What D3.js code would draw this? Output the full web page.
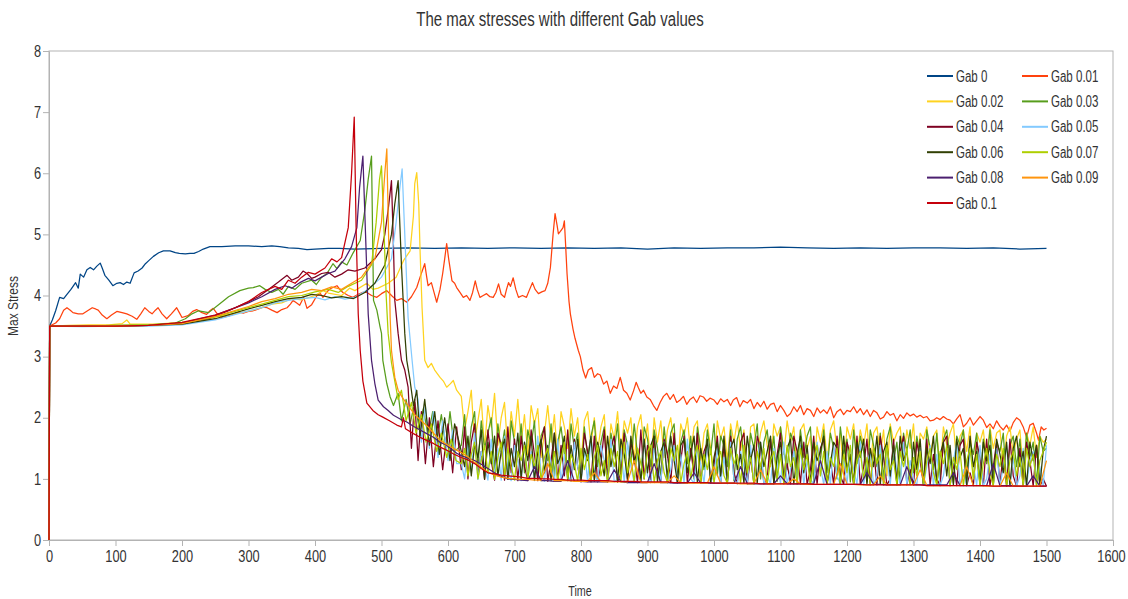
<!DOCTYPE html>
<html>
<head>
<meta charset="utf-8">
<script src="https://cdn.jsdelivr.net/npm/d3@7"></script>
<style>
  body { margin: 0; background: #fff; }
  text { font-family: "Liberation Sans", Arial, sans-serif; fill: #333; }
</style>
</head>
<body>
<script>
// series names, in draw order
const seriesNames = ["Gab 0", "Gab 0.01", "Gab 0.02", "Gab 0.03", "Gab 0.04", "Gab 0.05",
                     "Gab 0.06", "Gab 0.07", "Gab 0.08", "Gab 0.09", "Gab 0.1"];
const seriesColors = ["#004586", "#ff420e", "#ffd320", "#579d1c", "#7e0021", "#83caff",
                      "#314004", "#aecf00", "#4b1f6f", "#ff950e", "#c5000b"];

const xTicks = [0, 100, 200, 300, 400, 500, 600, 700, 800, 900, 1000, 1100, 1200, 1300, 1400, 1500, 1600];
const yTicks = [0, 1, 2, 3, 4, 5, 6, 7, 8];

// Gab 0 and Gab 0.01 as [time, stress] pairs
const gab0 = [[0,0],[1,3.5],[5,3.6],[10,3.75],[16,3.97],[22,3.95],[27,4.02],[33,4.1],[40,4.21],[44,4.12],[47,4.35],[52,4.3],
  [57,4.42],[62,4.46],[67,4.42],[72,4.48],[77,4.53],[80,4.45],[84,4.33],[90,4.25],[96,4.16],[102,4.2],[107,4.21],[112,4.18],
  [117,4.22],[122,4.2],[128,4.37],[134,4.4],[140,4.45],[145,4.52],[150,4.57],[157,4.64],[165,4.7],[172,4.73],[182,4.73],
  [190,4.7],[196,4.69],[205,4.68],[212,4.69],[218,4.69],[225,4.72],[232,4.76],[242,4.8],[260,4.8],[280,4.81],[300,4.81],
  [320,4.8],[335,4.81],[347,4.8],[360,4.78],[375,4.77],[388,4.75],[400,4.76],[420,4.77],[437,4.77],[460,4.76],[500,4.77],
  [540,4.78],[580,4.77],[620,4.78],[660,4.77],[700,4.78],[740,4.77],[780,4.78],[820,4.77],[860,4.78],[900,4.76],[940,4.78],
  [980,4.77],[1020,4.78],[1060,4.78],[1100,4.79],[1140,4.78],[1180,4.77],[1220,4.78],[1260,4.77],[1300,4.78],[1340,4.78],
  [1380,4.77],[1420,4.78],[1460,4.76],[1500,4.77]];

const gab001 = [[0,0],[1,3.5],[10,3.55],[16,3.62],[22,3.76],[27,3.8],[32,3.76],[36,3.72],[44,3.7],[51,3.7],[58,3.75],[65,3.8],
  [70,3.78],[74,3.76],[80,3.68],[87,3.62],[94,3.68],[102,3.74],[110,3.72],[117,3.7],[125,3.66],[132,3.61],[138,3.7],[144,3.8],
  [150,3.74],[155,3.7],[160,3.76],[164,3.8],[170,3.7],[177,3.62],[184,3.7],[192,3.8],[196,3.72],[200,3.64],[209,3.67],[216,3.74],
  [222,3.77],[230,3.72],[237,3.69],[242,3.75],[247,3.79],[253,3.7],[260,3.64],[268,3.66],[277,3.69],[285,3.73],[292,3.71],
  [300,3.74],[307,3.75],[315,3.78],[322,3.81],[328,3.8],[335,3.76],[343,3.72],[350,3.77],[358,3.8],[363,3.86],[367,3.92],
  [372,3.88],[377,3.84],[383,3.97],[388,3.79],[395,3.85],[403,4.0],[408,4.03],[412,3.97],[418,4.06],[423,4.11],[427,4.13],
  [433,4.16],[438,4.09],[442,4.05],[450,4.0],[457,3.97],[465,4.02],[472,4.05],[478,4.05],[485,4.0],[493,3.97],[500,4.03],
  [508,4.08],[515,4.0],[523,3.92],[530,3.95],[538,3.89],[545,3.98],[553,4.13],[558,4.3],[565,4.52],[568,4.3],[570,4.16],
  [575,4.21],[579,4.05],[583,3.89],[588,4.1],[592,4.36],[595,4.6],[598,4.85],[601,4.6],[606,4.24],[610,4.2],[613,4.13],
  [618,4.05],[623,3.97],[628,4.0],[633,3.92],[637,4.05],[641,4.24],[644,4.1],[648,3.97],[653,4.0],[658,4.03],[663,3.98],
  [668,3.97],[672,4.05],[676,4.19],[680,4.02],[685,3.97],[688,4.1],[691,4.21],[694,4.15],[698,4.29],[702,4.1],[706,3.97],
  [712,4.0],[718,3.97],[722,4.08],[727,4.21],[731,4.1],[736,4.03],[741,4.06],[746,4.08],[750,4.2],[754,4.46],[758,5.0],
  [761,5.34],[764,5.15],[766,5.01],[769,5.05],[773,5.11],[775,5.22],[777,4.8],[779,4.36],[782,3.9],[784,3.7],[788,3.45],
  [791,3.3],[796,3.1],[799,3.0],[803,2.78],[807,2.65],[811,2.78],[816,2.82],[820,2.66],[825,2.72],[829,2.7],[834,2.55],
  [839,2.6],[844,2.4],[849,2.52],[854,2.48],[859,2.66],[864,2.45],[869,2.4],[874,2.29],[879,2.44],[883,2.58],[886,2.5],
  [890,2.4],[894,2.45],[899,2.34],[904,2.3],[909,2.2],[914,2.12],[919,2.25],[924,2.35],[929,2.4],[934,2.3],[939,2.38],
  [944,2.25],[949,2.29],[954,2.35],[959,2.22],[964,2.3],[969,2.34],[974,2.25],[979,2.36],[984,2.34],[989,2.27],[994,2.32],
  [1000,2.29],[1005,2.22],[1010,2.31],[1015,2.26],[1020,2.3],[1025,2.2],[1029,2.29],[1034,2.33],[1039,2.18],[1044,2.28],
  [1050,2.24],[1055,2.3],[1060,2.15],[1065,2.25],[1070,2.18],[1075,2.27],[1080,2.14],[1085,2.22],[1090,2.24],[1095,2.1],
  [1100,2.2],[1105,2.12],[1110,2.02],[1115,2.07],[1120,2.18],[1125,2.1],[1130,2.2],[1135,2.05],[1140,2.15],[1145,2.12],
  [1150,2.02],[1155,2.16],[1160,2.08],[1165,2.13],[1170,2.07],[1175,2.18],[1180,2.0],[1185,2.1],[1190,2.14],[1195,2.05],
  [1200,2.12],[1205,2.1],[1210,2.18],[1215,2.08],[1220,2.15],[1225,2.05],[1230,2.13],[1235,2.02],[1240,2.12],[1245,2.08],
  [1250,1.98],[1255,2.01],[1260,2.1],[1265,2.04],[1270,2.07],[1275,1.95],[1280,2.05],[1285,1.99],[1290,2.08],[1295,2.03],
  [1300,2.06],[1305,2.01],[1310,2.04],[1315,2.0],[1320,2.02],[1325,1.95],[1330,1.96],[1335,2.0],[1340,1.97],[1345,2.02],
  [1350,1.98],[1355,1.96],[1360,1.9],[1365,1.98],[1370,2.05],[1375,1.85],[1380,1.91],[1385,2.0],[1390,1.88],[1395,1.95],
  [1400,2.02],[1405,1.96],[1410,1.84],[1415,1.9],[1420,1.82],[1425,1.95],[1430,1.86],[1435,1.8],[1440,1.88],[1445,1.78],
  [1450,1.92],[1455,2.0],[1460,1.96],[1465,1.85],[1470,1.68],[1475,1.88],[1480,1.91],[1485,1.75],[1488,1.63],[1492,1.85],
  [1496,1.8],[1500,1.83]];

// the other series: [time, stress] pairs up to the collapse, then a tail read at a fixed time step from 620
const tailStart = 620;

const head002 = [[0,0],[1,3.5],[30,3.51],[60,3.52],[90,3.52],[110,3.54],[117,3.6],[122,3.53],[160,3.53],[200,3.56],[230,3.6],
  [260,3.67],[290,3.72],[320,3.8],[335,3.86],[350,3.88],[365,3.95],[380,3.93],[400,4.0],[412,4.08],[420,4.04],[440,4.0],
  [452,4.12],[460,4.08],[478,4.2],[487,4.1],[495,4.12],[510,4.2],[522,4.3],[533,4.57],[543,4.73],[548,5.3],[550,5.83],
  [553,6.01],[556,5.5],[558,4.73],[561,3.8],[563,3.38],[565,2.94],[570,2.82],[575,2.89],[580,2.78],[588,2.66],[593,2.6],
  [598,2.5],[603,2.55],[608,2.61],[613,2.45]];
const tail002 = [
  2.35,1.8,2.1,2.45,1.6,1.95,2.3,1.5,2.2,1.85, 2.4,1.55,2.0,2.25,1.45,2.1,1.7,2.3,1.6,2.05,
  1.4,2.2,1.9,2.15,1.35,1.75,2.2,1.6,2.05,1.3, 2.1,1.85,1.5,2.15,1.7,2.0,1.25,1.95,2.1,1.55,
  2.0,1.45,1.85,2.05,1.2,1.9,1.65,2.1,1.4,1.95, 1.75,2.0,1.3,1.85,2.05,1.5,1.9,1.15,2.0,1.6,
  1.95,1.35,1.8,2.0,1.55,1.1,1.9,1.7,2.0,1.4, 1.85,1.95,1.25,1.75,1.9,1.5,1.05,1.95,1.65,1.85,
  1.3,1.9,1.6,1.95,1.45,1.8,1.0,1.85,1.9,1.35, 1.75,1.95,1.55,1.2,1.9,1.7,1.85,1.4,1.95,1.6,
  1.85,1.15,1.8,1.9,1.5,1.7,1.0,1.85,1.6,1.9, 1.3,1.8,1.95,1.45,1.75,1.1,1.85,1.65,1.9,1.35,
  1.8,1.55,1.9,1.2,1.75,1.85,1.4,1.8,1.05,1.9, 1.6,1.75,1.85,1.3,1.8,1.5,1.9,1.15,1.75,1.65,
  1.85,1.35,1.7,1.8,1.1,1.85,1.55,1.75,1.9,1.25, 1.7,1.8,1.45,1.85,1.0,1.75,1.6,1.8,1.3,1.85,
  1.5,1.75,1.8,1.2,1.7,1.85,1.4,1.65,1.8,1.1, 1.75,1.55,1.85,1.35,1.7,1.6,1.65];

const head003 = [[0,0],[1,3.5],[50,3.5],[100,3.51],[150,3.52],[190,3.55],[205,3.62],[215,3.7],[225,3.75],[240,3.72],[255,3.85],
  [270,3.98],[287,4.08],[300,4.12],[307,4.13],[317,4.16],[325,4.1],[335,4.05],[345,4.1],[352,4.02],[360,4.15],[370,4.1],
  [380,4.2],[395,4.25],[402,4.18],[410,4.3],[418,4.36],[427,4.52],[433,4.44],[440,4.55],[448,4.5],[457,4.69],[468,4.9],
  [475,5.4],[480,5.9],[485,6.28],[488,3.92],[493,3.76],[498,3.48],[500,3.38],[502,2.94],[508,2.56],[513,2.34],[518,2.2],
  [525,2.4],[530,1.95],[537,2.3],[543,1.9],[550,2.25],[557,1.8],[563,2.15],[570,1.7],[577,2.1],[583,1.6],[590,2.05],
  [597,1.5],[603,2.1],[610,1.45]];
const tail003 = [
  1.55,2.05,1.3,1.85,2.1,1.2,1.95,1.5,1.75,2.0, 1.15,1.9,1.45,1.8,1.05,1.95,1.6,1.35,1.9,1.1,
  1.8,1.55,1.95,1.0,1.7,1.85,1.3,1.9,1.05,1.6, 1.85,1.4,1.1,1.9,1.5,1.75,1.0,1.85,1.35,1.7,
  1.95,1.2,1.6,1.85,1.0,1.75,1.45,1.9,1.1,1.8, 1.55,1.25,1.9,1.4,1.0,1.85,1.65,1.2,1.8,1.5,
  1.05,1.85,1.35,1.75,1.9,0.98,1.6,1.8,1.25,1.7, 1.0,1.85,1.5,1.15,1.8,1.4,1.9,1.05,1.7,1.55,
  1.2,1.8,0.97,1.65,1.85,1.35,1.05,1.75,1.5,1.9, 1.0,1.6,1.8,1.25,1.7,0.96,1.85,1.45,1.15,1.75,
  1.6,1.0,1.8,1.35,1.7,1.85,0.95,1.55,1.3,1.8, 1.1,1.75,1.5,1.0,1.85,1.4,1.65,0.95,1.8,1.25,
  1.7,1.45,0.95,1.8,1.55,1.2,1.75,1.0,1.65,1.85, 1.3,1.6,0.94,1.75,1.45,1.8,1.1,1.7,1.35,0.94,
  1.8,1.5,1.15,1.75,1.0,1.65,1.8,1.3,0.93,1.7, 1.55,1.8,1.05,1.6,1.4,1.75,0.93,1.65,1.25,1.8,
  1.0,1.6,1.45,1.75,0.92,1.55,1.7,1.2,1.65,1.0, 1.75,1.35,1.6,0.92,1.7,1.45,1.5];

const head004 = [[0,0],[1,3.5],[50,3.5],[100,3.5],[150,3.51],[200,3.55],[240,3.62],[270,3.75],[300,3.9],[315,3.98],[330,4.1],
  [345,4.22],[358,4.33],[365,4.25],[375,4.3],[382,4.4],[388,4.36],[395,4.28],[400,4.3],[410,4.36],[420,4.38],[430,4.3],
  [440,4.35],[450,4.42],[460,4.4],[475,4.45],[490,4.6],[500,4.75],[505,5.0],[510,5.4],[515,5.88],[518,4.8],[520,3.92],
  [525,3.38],[530,2.94],[535,2.78],[540,2.5],[545,1.5],[550,2.3],[555,1.3],[560,2.1],[566,1.25],[572,2.0],[578,1.2],
  [585,1.95],[592,1.15],[600,1.9],[607,1.1],[613,1.85]];
const tail004 = [
  1.15,1.85,1.0,1.6,1.9,1.05,1.45,0.99,1.8,1.3, 0.98,1.75,1.55,0.98,1.85,1.1,1.65,0.97,1.7,1.2,
  0.97,1.8,1.4,0.97,1.6,1.85,0.96,1.3,1.75,0.96, 1.55,1.05,1.8,0.96,1.65,1.2,0.95,1.75,1.45,0.95,
  1.7,0.95,1.25,1.8,0.95,1.5,1.7,0.95,1.1,1.75, 0.94,1.6,1.35,0.94,1.8,1.0,1.55,0.94,1.7,1.15,
  0.94,1.65,1.4,0.94,1.75,0.93,1.3,1.7,0.93,1.5, 1.05,1.75,0.93,1.45,1.6,0.93,1.2,1.7,0.93,1.55,
  0.93,1.7,1.1,0.92,1.6,1.75,0.92,1.35,0.92,1.7, 1.5,0.92,1.0,1.65,0.92,1.4,1.75,0.92,1.25,0.92,
  1.7,1.45,0.92,1.6,0.91,1.15,1.7,0.91,1.5,1.65, 0.91,1.3,0.91,1.7,1.05,0.91,1.6,1.4,0.91,1.7,
  0.91,1.2,1.65,0.9,1.5,0.9,1.7,1.35,0.9,1.0, 1.65,0.9,1.45,1.7,0.9,1.15,0.9,1.6,1.3,0.9,
  1.65,0.9,1.4,1.0,0.89,1.6,1.7,0.89,1.25,0.89, 1.55,1.65,0.89,1.1,0.89,1.6,1.35,0.89,1.65,0.89,
  1.2,1.6,0.89,1.45,0.88,1.65,1.05,0.88,1.5,0.88, 1.6,1.3,0.88,1.55,0.88,1.0,0.88];

const head005 = [[0,0],[1,3.5],[50,3.49],[100,3.5],[150,3.5],[200,3.52],[250,3.6],[300,3.75],[320,3.8],[340,3.88],[360,3.92],
  [380,3.95],[400,3.97],[415,3.93],[430,3.98],[445,3.94],[460,3.97],[480,4.1],[500,4.3],[515,4.6],[522,5.2],[528,5.8],
  [531,6.07],[535,5.0],[540,3.64],[546,2.94],[550,2.5],[555,2.3],[560,1.6],[566,2.2],[572,1.5],[578,2.1],[585,1.35],
  [592,1.95],[600,1.3],[607,1.8],[613,1.25]];
const tail005 = [
  1.25,1.0,1.6,1.1,1.75,0.99,1.45,1.2,0.98,1.65, 1.05,1.5,0.98,1.7,1.15,0.97,1.55,1.3,0.97,1.6,
  1.0,1.45,0.97,1.7,1.1,0.96,1.55,1.25,0.96,1.65, 0.96,1.4,1.05,0.96,1.6,1.2,0.95,1.5,0.95,1.7,
  1.1,0.95,1.55,1.3,0.95,1.65,0.95,1.0,1.5,0.94, 1.6,1.2,0.94,1.45,0.94,1.65,1.05,0.94,1.5,1.3,
  0.94,1.6,0.93,1.15,1.55,0.93,1.4,0.93,1.65,1.0, 0.93,1.5,1.25,0.93,1.6,0.93,1.1,1.5,0.93,1.35,
  0.92,1.6,1.0,0.92,1.45,1.2,0.92,1.55,0.92,1.35, 1.6,0.92,1.05,0.92,1.5,1.25,0.92,1.6,0.92,1.15,
  1.45,0.91,1.55,0.91,1.3,1.0,0.91,1.6,1.2,0.91, 1.45,0.91,1.55,1.05,0.91,1.35,0.91,1.5,1.15,0.91,
  1.6,0.9,1.25,1.45,0.9,1.05,1.55,0.9,1.35,0.9, 1.5,1.15,0.9,1.6,0.9,1.3,1.0,0.9,1.5,0.9,
  1.2,1.55,0.89,1.4,0.89,1.05,1.5,0.89,1.3,1.6, 0.89,1.15,0.89,1.45,1.25,0.89,1.55,0.89,1.0,1.4,
  0.89,1.5,0.88,1.2,1.55,0.88,1.35,0.88,1.05,1.5, 0.88,1.3,1.45,0.88,1.2,0.88,1.55];

const head006 = [[0,0],[1,3.5],[50,3.5],[100,3.5],[150,3.51],[200,3.53],[250,3.62],[300,3.78],[320,3.84],[340,3.9],[360,3.95],
  [380,3.97],[395,4.02],[410,4.0],[425,3.96],[440,3.98],[458,3.95],[475,4.05],[490,4.2],[505,4.5],[515,5.0],[520,5.5],
  [525,5.88],[530,4.5],[535,3.38],[538,2.94],[543,2.61],[548,2.2],[553,2.45],[558,1.7],[565,2.3],[572,1.55],[580,2.1],
  [587,1.4],[595,2.0],[603,1.3],[610,1.9]];
const tail006 = [
  1.45,1.2,1.7,1.05,1.55,1.35,1.8,1.0,1.6,1.25, 1.7,1.05,1.45,1.65,0.99,1.5,1.2,1.75,1.0,1.6,
  1.3,1.7,0.98,1.45,1.65,1.1,1.55,0.97,1.75,1.25, 1.4,1.7,0.97,1.55,1.15,1.65,0.96,1.5,1.3,1.7,
  0.96,1.6,1.35,1.05,1.7,1.2,1.55,0.95,1.65,1.4, 1.0,1.7,1.25,1.5,0.95,1.65,1.1,1.55,1.7,0.95,
  1.45,1.6,1.0,1.7,1.3,0.94,1.55,1.65,1.1,1.4, 1.7,0.94,1.5,1.2,1.65,0.94,1.35,1.6,1.05,1.7,
  0.93,1.5,1.65,1.15,1.4,0.93,1.7,1.3,1.55,0.93, 1.6,1.2,1.45,1.7,0.93,1.35,1.6,1.0,1.5,1.65,
  0.92,1.4,1.7,1.1,1.55,0.92,1.6,1.3,1.45,1.7, 0.92,1.25,1.6,1.5,0.92,1.7,1.15,1.4,0.92,1.6,
  1.35,1.65,0.91,1.5,1.2,1.7,0.91,1.45,1.6,1.05, 1.55,0.91,1.7,1.3,1.45,0.91,1.6,1.15,1.65,0.9,
  1.5,1.25,1.7,0.9,1.4,1.6,1.05,1.55,0.9,1.65, 1.35,1.5,0.9,1.7,1.2,1.45,0.9,1.6,1.3,1.55,
  0.9,1.65,1.4,1.1,1.6,0.89,1.5,1.7,1.2,1.45, 0.89,1.6,1.3,1.55,0.89,1.45,1.7];

const head007 = [[0,0],[1,3.5],[50,3.5],[100,3.51],[150,3.52],[200,3.55],[250,3.65],[300,3.8],[320,3.86],[340,3.92],[360,3.98],
  [380,4.0],[400,4.06],[420,4.1],[435,4.05],[450,4.15],[470,4.25],[485,4.5],[492,5.2],[497,5.9],[500,6.12],[504,5.0],
  [507,4.0],[510,3.38],[515,2.9],[520,2.6],[525,2.3],[530,2.45],[537,1.95],[545,2.25],[552,1.75],[560,2.05],[567,1.6],
  [575,1.9],[583,1.45],[590,1.75],[598,1.35],[605,1.65],[612,1.3]];
const tail007 = [
  1.25,1.5,1.05,1.4,1.6,1.0,1.3,1.55,1.1,1.45, 0.99,1.35,1.6,1.05,1.5,1.2,0.98,1.45,1.3,1.55,
  1.0,1.4,1.2,1.55,0.97,1.35,1.5,1.1,1.45,0.97, 1.3,1.6,1.0,1.4,1.25,0.96,1.5,1.15,1.4,0.96,
  1.35,1.55,1.05,1.3,0.95,1.5,1.2,1.45,0.95,1.6, 1.1,1.35,0.95,1.5,1.25,1.0,1.45,1.55,0.94,1.3,
  1.45,1.1,0.94,1.5,1.3,1.55,0.94,1.25,1.45,1.0, 1.35,1.55,0.93,1.4,1.15,1.5,0.93,1.3,1.45,1.05,
  0.93,1.5,1.25,1.4,0.93,1.55,1.1,1.35,0.92,1.45, 1.2,1.5,0.92,1.3,1.45,1.0,1.4,0.92,1.55,1.2,
  1.35,0.92,1.5,1.15,1.4,0.91,1.3,1.55,1.05,1.45, 0.91,1.35,1.2,1.5,0.91,1.4,1.1,1.55,0.91,1.3,
  1.45,1.0,1.35,0.91,1.5,1.25,1.4,0.9,1.55,1.15, 1.3,0.9,1.45,1.2,1.5,0.9,1.35,1.05,1.45,0.9,
  1.3,1.5,1.1,0.9,1.45,1.25,1.55,0.89,1.35,1.15, 1.45,0.89,1.3,1.5,1.0,1.4,0.89,1.25,1.5,1.1,
  0.89,1.4,1.2,1.5,0.88,1.3,1.45,1.05,1.35,0.88, 1.5,1.2,1.4,0.88,1.3,1.45,1.6];

const head008 = [[0,0],[1,3.5],[50,3.5],[100,3.5],[150,3.51],[200,3.55],[250,3.68],[300,3.88],[320,3.98],[340,4.1],[355,4.16],
  [365,4.12],[377,4.21],[390,4.28],[400,4.24],[410,4.3],[420,4.36],[430,4.4],[445,4.6],[455,4.8],[463,5.11],[467,5.76],
  [472,6.28],[476,5.0],[480,3.7],[485,2.94],[490,2.56],[495,2.29],[503,2.18],[510,2.12],[518,2.04],[528,1.98],[538,1.93],
  [548,1.86],[558,1.8],[568,1.74],[578,1.68],[588,1.6],[598,1.55],[606,1.48],[613,1.42]];
const tail008 = [1.38,1.34,1.3,1.24,1.17,1.1,1.04,1.0,0.99,0.98, 0.97,1.2,0.97,0.97,0.96,0.96,1.3,0.96,0.96,0.95,
  0.95,0.95,0.95,1.15,0.95,0.94,0.94,0.94,0.94,1.25, 0.94,0.94,0.93,0.93,0.93,1.1,0.93,0.93,0.93,0.93,
  0.93,0.93,1.2,0.92,0.92,0.92,0.92,0.92,1.05,0.92, 0.92,0.92,0.92,0.92,1.3,0.91,0.91,0.91,0.91,0.91,
  0.91,1.1,0.91,0.91,0.9,0.9,0.9,1.2,0.9,0.9, 0.9,0.9,0.9,0.9,1.1,0.89,0.89,0.89,0.89,0.89,
  1.25,0.89,0.89,0.89,0.88,0.88,1.05,0.88,0.88];

const head009 = [[0,0],[1,3.5],[50,3.5],[100,3.5],[150,3.51],[200,3.54],[250,3.66],[300,3.82],[320,3.9],[340,3.95],[360,4.02],
  [380,4.05],[395,4.1],[410,4.08],[425,4.14],[440,4.1],[455,4.2],[470,4.3],[490,4.6],[500,5.2],[505,6.0],[508,6.4],
  [511,4.8],[513,3.64],[515,3.1],[520,2.66],[525,2.45],[532,2.32],[540,2.2],[550,2.05],[560,1.95],[570,1.85],[578,1.75],
  [588,1.63],[600,1.55],[613,1.47]];
const tail009 = [1.43,1.36,1.27,1.19,1.11,1.06,1.03,1.01,1.0,0.99, 0.99,0.98,0.98,1.25,0.97,0.97,0.97,0.96,0.96,0.96,
  1.1,0.96,0.95,0.95,0.95,0.95,1.3,0.94,0.94,0.94, 0.94,0.94,1.05,0.94,0.93,0.93,0.93,0.93,1.2,0.93,
  0.93,0.93,0.92,0.92,0.92,1.15,0.92,0.92,0.92,0.92, 1.0,0.92,0.91,0.91,0.91,0.91,0.91,1.25,0.91,0.91,
  0.9,0.9,0.9,1.05,0.9,0.9,0.9,0.9,0.9,1.15, 0.89,0.89,0.89,0.89,0.89,0.89,1.2,0.89,0.89,0.88,
  0.88,0.88,1.1,0.88,0.88,0.88,0.88,0.88,1.3];

const head01 = [[0,0],[1,3.5],[50,3.5],[100,3.5],[150,3.51],[200,3.56],[250,3.68],[280,3.8],[300,3.9],[320,4.05],[340,4.15],
  [350,4.1],[360,4.25],[370,4.2],[380,4.3],[390,4.38],[400,4.35],[415,4.45],[425,4.6],[433,4.55],[440,4.62],[450,5.11],
  [455,6.0],[459,6.92],[462,5.0],[465,3.7],[468,3.1],[472,2.6],[478,2.24],[487,2.12],[495,2.05],[502,2.01],[512,1.95],
  [523,1.88],[530,1.85],[533,2.0],[536,1.82],[548,1.74],[558,1.68],[568,1.63],[578,1.58],[588,1.52],[598,1.47],[608,1.41]];
const tail01 = [1.35,1.31,1.25,1.17,1.1,1.08,1.06,1.05,1.04,1.03, 1.01,1.01,1.0,1.0,0.99,0.99,0.98,0.98,0.98,0.97,
  0.97,0.97,0.97,0.96,0.96,0.96,0.96,0.95,0.95,0.95, 0.95,0.95,0.94,0.94,0.94,0.94,0.94,0.94,0.93,0.93,
  0.93,0.93,0.93,0.93,0.93,0.92,0.92,0.92,0.92,0.92, 0.92,0.92,0.92,0.91,0.91,0.91,0.91,0.91,0.91,0.91,
  0.91,0.9,0.9,0.9,0.9,0.9,0.9,0.9,0.9,0.9, 0.89,0.89,0.89,0.89,0.89,0.89,0.89,0.89,0.89,0.89,
  0.88,0.88,0.88,0.88,0.88,0.88,0.88,0.88,0.88];

function withTail(head, tail, step) {
  return head.concat(tail.map((v, i) => [tailStart + i * step, v]));
}

const seriesData = [gab0, gab001,
  withTail(head002, tail002, 5), withTail(head003, tail003, 5), withTail(head004, tail004, 5),
  withTail(head005, tail005, 5), withTail(head006, tail006, 5), withTail(head007, tail007, 5),
  withTail(head008, tail008, 10), withTail(head009, tail009, 10), withTail(head01, tail01, 10)];

let w = 1128;
let h = 599;
let svg = d3.select("body").append("svg").attr("width", w).attr("height", h);

let plotLeft = 49, plotRight = 1113, plotTop = 51, plotBottom = 540;
let xScale = d3.scaleLinear().domain([0, 1600]).range([plotLeft, plotRight]);
let yScale = d3.scaleLinear().domain([0, 8]).range([plotBottom, plotTop]);

// squeeze text horizontally, the source chart has narrow lettering
function squash(sel, k) {
  sel.each(function() {
    let len = this.getComputedTextLength();
    d3.select(this).attr("textLength", len * k).attr("lengthAdjust", "spacingAndGlyphs");
  });
}

/************** frame and axes **************/
let gridColor = "#b3b3b3";
svg.append("rect")
  .attr("x", plotLeft).attr("y", plotTop)
  .attr("width", plotRight - plotLeft).attr("height", plotBottom - plotTop)
  .attr("fill", "none").attr("stroke", gridColor).attr("stroke-width", 1);

let xAxis = svg.append("g")
  .attr("transform", "translate(0," + plotBottom + ")")
  .call(d3.axisBottom(xScale).tickValues(xTicks).tickFormat(d3.format("d"))
    .tickSize(6).tickSizeOuter(0).tickPadding(5));
let yAxis = svg.append("g")
  .attr("transform", "translate(" + plotLeft + ",0)")
  .call(d3.axisLeft(yScale).tickValues(yTicks).tickFormat(d3.format("d"))
    .tickSize(6).tickSizeOuter(0).tickPadding(2));

[xAxis, yAxis].forEach(function(ax) {
  ax.select(".domain").attr("stroke", gridColor);
  ax.selectAll(".tick line").attr("stroke", gridColor);
  ax.selectAll(".tick text")
    .attr("font-family", "Liberation Sans, Arial, sans-serif")
    .attr("font-size", "16px")
    .attr("fill", "#333");
});
squash(xAxis.selectAll(".tick text"), 0.8);
squash(yAxis.selectAll(".tick text"), 0.8);
// last label sits against the right edge of the picture
xAxis.selectAll(".tick text").filter(function(d) { return d === 1600; }).attr("dx", -2);

/************** lines **************/
let line = d3.line()
  .x(function(d) { return xScale(d[0]); })
  .y(function(d) { return yScale(d[1]); });

svg.append("g").selectAll("path")
  .data(seriesData)
  .enter()
  .append("path")
  .attr("d", line)
  .attr("fill", "none")
  .attr("stroke", function(d, i) { return seriesColors[i]; })
  .attr("stroke-width", 1.25)
  .attr("stroke-linejoin", "round");

/************** texts **************/
let title = svg.append("text")
  .attr("x", 560).attr("y", 26)
  .attr("text-anchor", "middle")
  .attr("font-size", "20px")
  .attr("fill", "#222")
  .text("The max stresses with different Gab values");
squash(title, 0.75);

let xTitle = svg.append("text")
  .attr("x", 580).attr("y", 596)
  .attr("text-anchor", "middle")
  .attr("font-size", "15px")
  .text("Time");
squash(xTitle, 0.72);

let yTitle = svg.append("text")
  .attr("transform", "translate(18,306) rotate(-90)")
  .attr("text-anchor", "middle")
  .attr("font-size", "15px")
  .text("Max Stress");
squash(yTitle, 0.8);

/************** legend **************/
let legend = svg.append("g").selectAll("g")
  .data(seriesNames)
  .enter()
  .append("g")
  .attr("transform", function(d, i) {
    return "translate(" + (927 + (i % 2) * 95) + "," + (76 + Math.floor(i / 2) * 25.4) + ")";
  });

legend.append("line")
  .attr("x1", 0).attr("x2", 26)
  .attr("y1", 0).attr("y2", 0)
  .attr("stroke", function(d, i) { return seriesColors[i]; })
  .attr("stroke-width", 2);

let legendText = legend.append("text")
  .attr("x", 29).attr("y", 0)
  .attr("dy", "0.35em")
  .attr("font-size", "16px")
  .text(function(d) { return d; });
squash(legendText, 0.72);
</script>
</body>
</html>
